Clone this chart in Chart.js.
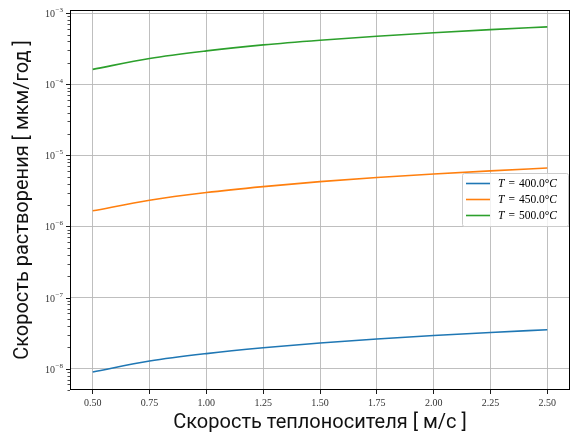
<!DOCTYPE html>
<html>
<head>
<meta charset="utf-8">
<script src="https://cdn.jsdelivr.net/npm/chart.js@4/dist/chart.umd.min.js"></script>
<style>
  html, body { margin: 0; padding: 0; background: #fff; }
  #wrap { width: 571px; height: 436px; }
</style>
</head>
<body>
<div id="wrap"><canvas id="chart"></canvas></div>
<script>
// скорость теплоносителя, м/с
const velocity = [0.5, 0.75, 1.0, 1.25, 1.5, 1.75, 2.0, 2.25, 2.5];
// скорость растворения, мкм/год
const rate400 = [9.0e-9, 1.28e-8, 1.63e-8, 1.97e-8, 2.30e-8, 2.62e-8, 2.93e-8, 3.23e-8, 3.53e-8];
const rate450 = [1.66e-6, 2.34e-6, 3.00e-6, 3.64e-6, 4.28e-6, 4.88e-6, 5.47e-6, 6.06e-6, 6.65e-6];
const rate500 = [1.62e-4, 2.31e-4, 2.95e-4, 3.58e-4, 4.17e-4, 4.75e-4, 5.31e-4, 5.87e-4, 6.43e-4];
const tempLabels = ["400.0", "450.0", "500.0"];
const colors = ["#1f77b4", "#ff7f0e", "#2ca02c"];
const xTicks = [0.5, 0.75, 1.0, 1.25, 1.5, 1.75, 2.0, 2.25, 2.5];
const yDecades = [-8, -7, -6, -5, -4, -3];

const SERIF = "'Liberation Serif', 'DejaVu Serif', serif";
const SANS = "Roboto, 'Noto Sans', 'DejaVu Sans', sans-serif";

// все значения тиков по логарифмической оси: 1..9 × 10^k
const yTickValues = [];
for (let k = -9; k <= -3; k++) for (let m = 1; m <= 9; m++) yTickValues.push(m * Math.pow(10, k));
const isMajor = (v) => Math.abs(Math.log10(v) - Math.round(Math.log10(v))) < 1e-6;

const series = [rate400, rate450, rate500];
const datasets = series.map((vals, i) => ({
  label: "T = " + tempLabels[i] + "°C",
  data: velocity.map((v, j) => ({ x: v, y: vals[j] })),
  borderColor: colors[i],
  backgroundColor: colors[i],
  borderWidth: 1.6,
  pointRadius: 0,
  cubicInterpolationMode: "monotone",
  fill: false,
}));

// рамка, тики оси Y, подписи 10^n и легенда
const decor = {
  id: "decor",
  afterDatasetsDraw(chart) {
    const { ctx, chartArea: a, scales: { y } } = chart;
    ctx.save();
    // тики оси Y
    ctx.strokeStyle = "#000";
    yTickValues.forEach((v) => {
      const py = y.getPixelForValue(v);
      if (py < a.top - 0.5 || py > a.bottom + 0.5) return;
      const major = isMajor(v);
      ctx.lineWidth = major ? 0.9 : 0.7;
      ctx.beginPath();
      ctx.moveTo(a.left, Math.round(py) + 0.5);
      ctx.lineTo(a.left - (major ? 4 : 2.5), Math.round(py) + 0.5);
      ctx.stroke();
    });
    // подписи 10^n
    ctx.fillStyle = "#333";
    ctx.textBaseline = "alphabetic";
    yDecades.forEach((d) => {
      const py = y.getPixelForValue(Math.pow(10, d));
      const exp = "\u2212" + Math.abs(d);
      ctx.font = "7px " + SERIF;
      const ew = ctx.measureText(exp).width;
      ctx.textAlign = "right";
      ctx.fillText(exp, a.left - 7, py - 1);
      ctx.font = "10px " + SERIF;
      ctx.fillText("10", a.left - 7 - ew - 0.5, py + 4);
    });
    // рамка
    ctx.strokeStyle = "#000";
    ctx.lineWidth = 1;
    ctx.strokeRect(Math.round(a.left) + 0.5, Math.round(a.top) + 0.5,
      Math.round(a.right - a.left) - 1, Math.round(a.bottom - a.top) - 1);
    ctx.restore();
  },
  afterDraw(chart) {
    const { ctx } = chart;
    const bx = 462, by = 173, bw = 106, bh = 53;
    ctx.save();
    ctx.fillStyle = "rgba(255,255,255,0.8)";
    ctx.strokeStyle = "#cccccc";
    ctx.lineWidth = 1;
    ctx.beginPath();
    ctx.roundRect(bx + 0.5, by + 0.5, bw, bh, 2);
    ctx.fill();
    ctx.stroke();
    chart.data.datasets.forEach((ds, i) => {
      const ly = by + 10.5 + i * 16;
      ctx.strokeStyle = ds.borderColor;
      ctx.lineWidth = 1.6;
      ctx.beginPath();
      ctx.moveTo(bx + 4, ly);
      ctx.lineTo(bx + 28, ly);
      ctx.stroke();
      ctx.fillStyle = "#000";
      ctx.textBaseline = "middle";
      ctx.textAlign = "left";
      let tx = bx + 36;
      ctx.font = "italic 11.5px " + SERIF;
      ctx.fillText("T", tx, ly);
      tx += ctx.measureText("T").width + 4;
      ctx.font = "11.5px " + SERIF;
      ctx.fillText("=", tx, ly);
      tx += ctx.measureText("=").width + 4;
      const num = tempLabels[i] + "\u00b0";
      ctx.fillText(num, tx, ly);
      tx += ctx.measureText(num).width;
      ctx.font = "italic 11.5px " + SERIF;
      ctx.fillText("C", tx, ly);
    });
    ctx.restore();
  },
};

new Chart(document.getElementById("chart"), {
  type: "line",
  data: { datasets },
  options: {
    responsive: true,
    maintainAspectRatio: false,
    animation: false,
    layout: { padding: { top: 10, right: 1, left: 0, bottom: 0 } },
    plugins: { legend: { display: false }, tooltip: { enabled: false } },
    scales: {
      x: {
        type: "linear",
        min: 0.4,
        max: 2.6,
        afterBuildTicks: (s) => { s.ticks = xTicks.map((v) => ({ value: v })); },
        afterFit: (s) => { s.height = 46; },
        ticks: {
          callback: (v) => Number(v).toFixed(2),
          font: { family: SERIF, size: 10 },
          color: "#333",
          padding: 3,
          maxRotation: 0,
        },
        grid: { color: "#b8b8b8", lineWidth: 0.9, tickColor: "#000", tickLength: 4, tickWidth: 0.9 },
        border: { display: false },
        title: {
          display: true,
          text: "Скорость теплоносителя [ м/с ]",
          font: { family: SANS, size: 20 },
          color: "#111",
          padding: { top: 0, bottom: 1 },
        },
      },
      y: {
        type: "logarithmic",
        min: Math.pow(10, -8.30),
        max: Math.pow(10, -2.955),
        afterBuildTicks: (s) => { s.ticks = yTickValues.map((v) => ({ value: v, major: isMajor(v) })); },
        afterFit: (s) => { s.width = 70; },
        ticks: { display: false },
        grid: {
          color: (c) => (c.tick && isMajor(c.tick.value) ? "#b8b8b8" : "rgba(0,0,0,0)"),
          lineWidth: 0.9,
          drawTicks: false,
        },
        border: { display: false },
        title: {
          display: true,
          text: "Скорость растворения [ мкм/год ]",
          font: { family: SANS, size: 20 },
          color: "#111",
          padding: { top: 11, bottom: 0 },
        },
      },
    },
  },
  plugins: [decor],
});
</script>
</body>
</html>
